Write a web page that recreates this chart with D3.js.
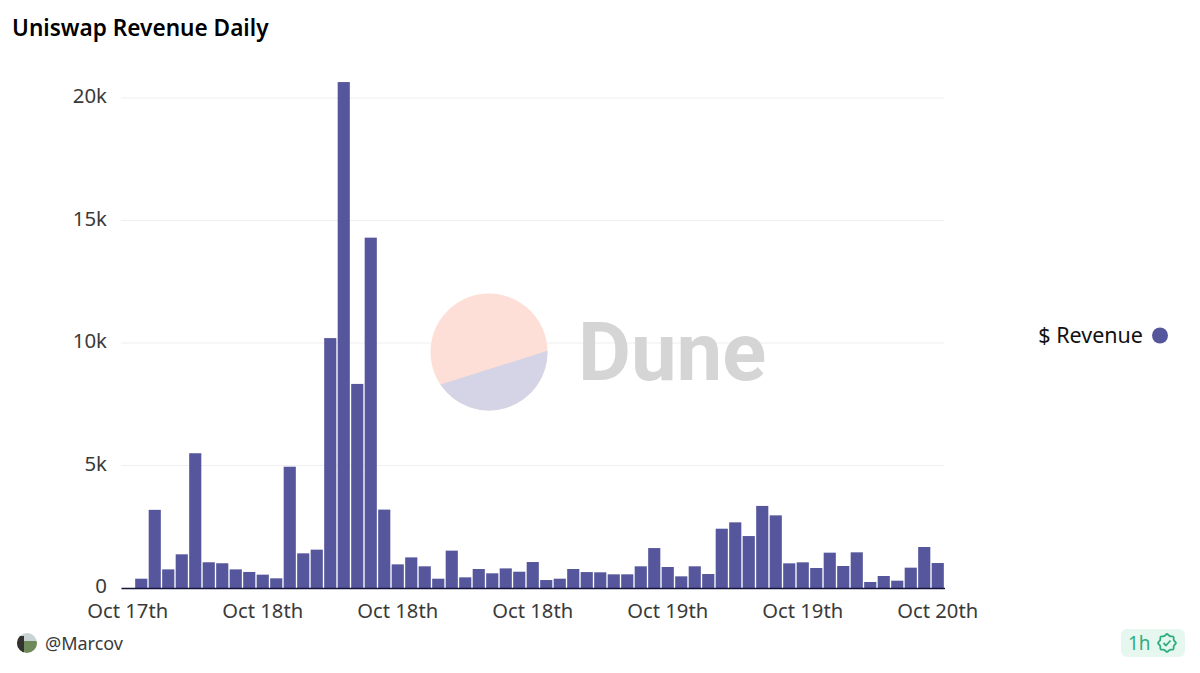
<!DOCTYPE html>
<html>
<head>
<meta charset="utf-8">
<script src="https://d3js.org/d3.v7.min.js"></script>
<style>
    html, body { margin: 0; padding: 0; background: #fff; }
    svg { display: block; }
    text { font-family: "Noto Sans", "Open Sans", sans-serif; }
</style>
</head>
<body>
<div id="graph"></div>
<script>
const title = 'Uniswap Revenue Daily'
const seriesName = '$ Revenue'
const author = '@Marcov'
const badgeLabel = '1h'
const watermark = 'Dune'

// one value per bar
const revenue = [
    0, 380, 3190, 760, 1375, 5500, 1050, 1010, 760, 655,
    545, 395, 4950, 1415, 1565, 10200, 20650, 8330, 14300, 3200,
    965, 1250, 885, 380, 1525, 435, 775, 600, 800, 665,
    1060, 325, 380, 775, 650, 640, 558, 558, 885, 1630,
    857, 476, 885, 571, 2420, 2680, 2120, 3350, 2965, 1007,
    1048, 816, 1442, 898, 1456, 245, 490, 299, 830, 1673,
    1020
]
const slots = revenue.map((d, i) => i)
const xTickSlots = [0, 10, 20, 30, 40, 50, 60]
const xTickLabels = ['Oct 17th', 'Oct 18th', 'Oct 18th', 'Oct 18th', 'Oct 19th', 'Oct 19th', 'Oct 20th']
const yTicks = [0, 5000, 10000, 15000, 20000]

const svg = d3.select('#graph').append('svg')
    .attr('width', 1200)
    .attr('height', 673)

svg.append('text')
    .attr('x', 12)
    .attr('y', 36)
    .attr('font-size', 22.6)
    .attr('font-weight', 600)
    .attr('fill', '#000')
    .text(title)

const xScale = d3.scaleBand()
    .domain(slots)
    .range([121, 944.5])
    .paddingInner(0.1)
    .paddingOuter(0.05)

const yScale = d3.scaleLinear()
    .domain([0, 20000])
    .range([588, 98])

// gridlines go under the watermark and the bars
svg.append('g')
    .selectAll('line')
    .data(yTicks.slice(1))
    .enter()
    .append('line')
    .attr('x1', 121)
    .attr('x2', 944)
    .attr('y1', d => yScale(d))
    .attr('y2', d => yScale(d))
    .attr('stroke', '#efeff1')
    .attr('stroke-width', 1.2)

// Dune logo
const logo = svg.append('g').attr('transform', 'translate(489, 352)')
logo.append('circle').attr('r', 58.5).attr('fill', '#fddfd8')
const chord = d3.path()
chord.arc(0, 0, 58.5, -0.022, 2.55)
chord.closePath()
logo.append('path').attr('d', chord.toString()).attr('fill', '#d4d4e6')
svg.append('text')
    .attr('x', 578)
    .attr('y', 380)
    .style('font-family', 'Roboto')
    .attr('font-size', 81.5)
    .attr('font-weight', 700)
    .attr('fill', '#d5d5d5')
    .text(watermark)

svg.append('g')
    .selectAll('rect')
    .data(slots)
    .enter()
    .append('rect')
    .attr('x', d => xScale(d))
    .attr('y', d => yScale(revenue[d]))
    .attr('width', xScale.bandwidth())
    .attr('height', d => yScale(0) - yScale(revenue[d]))
    .attr('fill', '#56569c')

// axes
const yAxis = svg.append('g')
    .attr('transform', 'translate(121, 0)')
    .call(d3.axisLeft(yScale)
        .tickValues(yTicks)
        .tickSize(0)
        .tickPadding(14)
        .tickFormat(d3.format('~s')))
yAxis.select('.domain').remove()
yAxis.selectAll('text')
    .attr('font-size', 20.4)
    .attr('fill', '#3a3a3a')
    .attr('dy', '0.22em')

const xAxis = svg.append('g')
    .attr('transform', 'translate(0, 588)')
    .call(d3.axisBottom(xScale)
        .tickValues(xTickSlots)
        .tickSize(0)
        .tickPadding(16)
        .tickFormat((d, i) => xTickLabels[i]))
xAxis.select('.domain')
    .attr('stroke', '#14143a')
    .attr('stroke-width', 1.5)
xAxis.selectAll('text')
    .attr('font-size', 20.2)
    .attr('fill', '#3a3a3a')

// legend
svg.append('text')
    .attr('x', 1143)
    .attr('y', 343)
    .attr('text-anchor', 'end')
    .attr('font-size', 21.5)
    .attr('fill', '#111')
    .text(seriesName)
svg.append('circle')
    .attr('cx', 1160)
    .attr('cy', 335.5)
    .attr('r', 8)
    .attr('fill', '#56569c')

// footer: avatar and author
const defs = svg.append('defs')
defs.append('clipPath').attr('id', 'avatar')
    .append('circle').attr('cx', 27).attr('cy', 643).attr('r', 10)
const avatar = svg.append('g').attr('clip-path', 'url(#avatar)')
avatar.append('rect').attr('x', 17).attr('y', 633).attr('width', 20).attr('height', 8).attr('fill', '#c9d3d6')
avatar.append('rect').attr('x', 17).attr('y', 641).attr('width', 20).attr('height', 12).attr('fill', '#6f8a5a')
avatar.append('rect').attr('x', 17).attr('y', 636).attr('width', 7).attr('height', 17).attr('fill', '#33322f')
svg.append('text')
    .attr('x', 45)
    .attr('y', 650)
    .attr('font-size', 18)
    .attr('fill', '#3a3a3a')
    .text(author)

// footer: freshness badge
svg.append('rect')
    .attr('x', 1121)
    .attr('y', 629)
    .attr('width', 64)
    .attr('height', 28)
    .attr('rx', 6)
    .attr('fill', '#e6f7f0')
svg.append('text')
    .attr('x', 1128)
    .attr('y', 650)
    .attr('font-size', 19)
    .attr('fill', '#2fae7c')
    .text(badgeLabel)
const seal = svg.append('g').attr('transform', 'translate(1167, 643)')
const lobes = d3.range(16).map(i => [i * Math.PI / 8, i % 2 ? 7.4 : 9])
seal.append('path')
    .attr('d', d3.lineRadial().curve(d3.curveCardinalClosed)(lobes))
    .attr('fill', 'none')
    .attr('stroke', '#2fae7c')
    .attr('stroke-width', 1.8)
seal.append('path')
    .attr('d', 'M-3.5 0 L-1 2.5 L3.5 -2.5')
    .attr('fill', 'none')
    .attr('stroke', '#2fae7c')
    .attr('stroke-width', 1.8)
</script>
</body>
</html>
